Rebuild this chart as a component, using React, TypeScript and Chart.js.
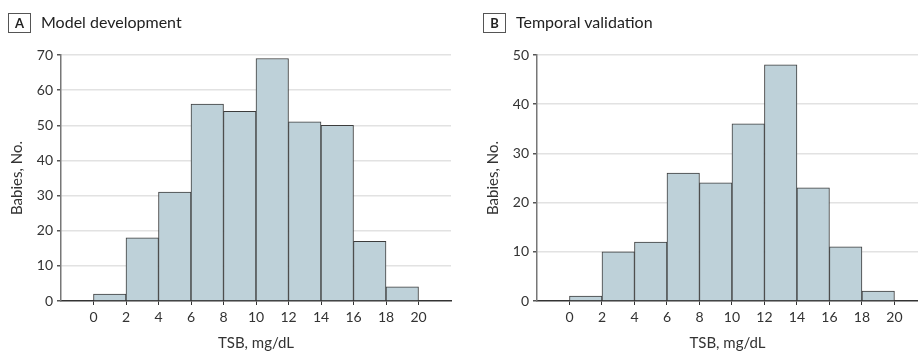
import React, { useEffect, useRef } from "react";
import { Chart, registerables } from "chart.js";

Chart.register(...registerables);

const binStarts = [0, 2, 4, 6, 8, 10, 12, 14, 16, 18];
const binWidth = 2;
const developmentCounts = [2, 18, 31, 56, 54, 69, 51, 50, 17, 4];
const validationCounts = [1, 10, 12, 26, 24, 36, 48, 23, 11, 2];
const xTickValues = [0, 2, 4, 6, 8, 10, 12, 14, 16, 18, 20];
const yTicksA = [0, 10, 20, 30, 40, 50, 60, 70];
const yTicksB = [0, 10, 20, 30, 40, 50];

const FONT = "Lato, 'Open Sans', sans-serif";
const BAR_FILL = "#bed1d9";
const BAR_EDGE = "#3c3c3c";
const GRID = "#e2e2e2";
const TEXT = "#333333";

type PanelProps = {
  counts: number[];
  yTicks: number[];
  xMax: number;
  width: number;
  padRight: number;
};

function HistPanel({ counts, yTicks, xMax, width, padRight }: PanelProps) {
  const ref = useRef<HTMLCanvasElement | null>(null);
  useEffect(() => {
    if (!ref.current) return;
    const data = binStarts.map((s, i) => ({ x: s + binWidth / 2, y: counts[i] }));
    const chart = new Chart(ref.current, {
      type: "bar",
      data: {
        datasets: [
          {
            data: data as any,
            backgroundColor: BAR_FILL,
            borderColor: BAR_EDGE,
            borderWidth: 1,
            barPercentage: 1,
            categoryPercentage: 1,
          },
        ],
      },
      options: {
        animation: false,
        responsive: false,
        maintainAspectRatio: false,
        layout: { padding: { left: 0, right: padRight, top: 55, bottom: 0 } },
        plugins: { legend: { display: false }, tooltip: { enabled: false }, title: { display: false } },
        scales: {
          x: {
            type: "linear",
            offset: false,
            min: -2,
            max: xMax,
            afterBuildTicks: (scale: any) => {
              scale.ticks = xTickValues.map((v) => ({ value: v }));
            },
            afterFit: (scale: any) => {
              scale.height = 51;
            },
            grid: {
              display: true,
              offset: false,
              drawOnChartArea: false,
              drawTicks: true,
              tickLength: 4,
              tickColor: "#333",
              lineWidth: 1,
            },
            border: { display: true, color: "#333", width: 1.5 },
            ticks: {
              autoSkip: false,
              maxRotation: 0,
              padding: 4,
              color: TEXT,
              font: { family: FONT, size: 14 },
              callback: (v: any) => String(v),
            },
            title: {
              display: true,
              text: "TSB, mg/dL",
              color: TEXT,
              font: { family: FONT, size: 15 },
              padding: { top: 0, bottom: 0 },
            },
          },
          y: {
            type: "linear",
            min: 0,
            max: yTicks[yTicks.length - 1],
            afterBuildTicks: (scale: any) => {
              scale.ticks = yTicks.map((v) => ({ value: v }));
            },
            afterFit: (scale: any) => {
              scale.width = 61;
            },
            grid: {
              display: true,
              color: (ctx: any) => (ctx.tick && ctx.tick.value === 0 ? "rgba(0,0,0,0)" : GRID),
              drawTicks: true,
              tickLength: 4,
              tickColor: "#555",
              lineWidth: 1.5,
            },
            border: { display: true, color: "#777", width: 1.5 },
            ticks: {
              padding: 4,
              color: TEXT,
              font: { family: FONT, size: 14 },
              callback: (v: any) => String(v),
            },
            title: {
              display: true,
              text: "Babies, No.",
              color: TEXT,
              font: { family: FONT, size: 15 },
              padding: { top: 8, bottom: 0 },
            },
          },
        },
      },
    });
    return () => chart.destroy();
  }, [counts, yTicks, xMax, padRight]);
  return <canvas ref={ref} width={width} height={352} style={{ width, height: 352, display: "block" }} />;
}

function Header({ letter, text, left, textLeft }: { letter: string; text: string; left: number; textLeft: number }) {
  return (
    <>
      <div
        style={{
          position: "absolute",
          left,
          top: 13,
          width: 21,
          height: 18,
          border: "1px solid #555",
          boxSizing: "content-box",
          fontFamily: FONT,
          fontWeight: 700,
          fontSize: 13,
          lineHeight: "18px",
          textAlign: "center",
          color: "#222",
        }}
      >
        {letter}
      </div>
      <div
        style={{
          position: "absolute",
          left: textLeft,
          top: 12,
          height: 20,
          lineHeight: "20px",
          fontFamily: FONT,
          fontSize: 16,
          color: "#222",
          whiteSpace: "nowrap",
        }}
      >
        {text}
      </div>
    </>
  );
}

export default function App() {
  return (
    <div style={{ position: "fixed", left: 0, top: 0, width: 918, height: 352, background: "#fff", overflow: "hidden" }}>
      <div style={{ position: "absolute", left: 0, top: 0 }}>
        <HistPanel counts={developmentCounts} yTicks={yTicksA} xMax={22} width={459} padRight={8} />
      </div>
      <div style={{ position: "absolute", left: 476, top: 0 }}>
        <HistPanel counts={validationCounts} yTicks={yTicksB} xMax={21.45} width={442} padRight={0} />
      </div>
      <Header letter="A" text="Model development" left={8} textLeft={41} />
      <Header letter="B" text="Temporal validation" left={483} textLeft={516} />
    </div>
  );
}
